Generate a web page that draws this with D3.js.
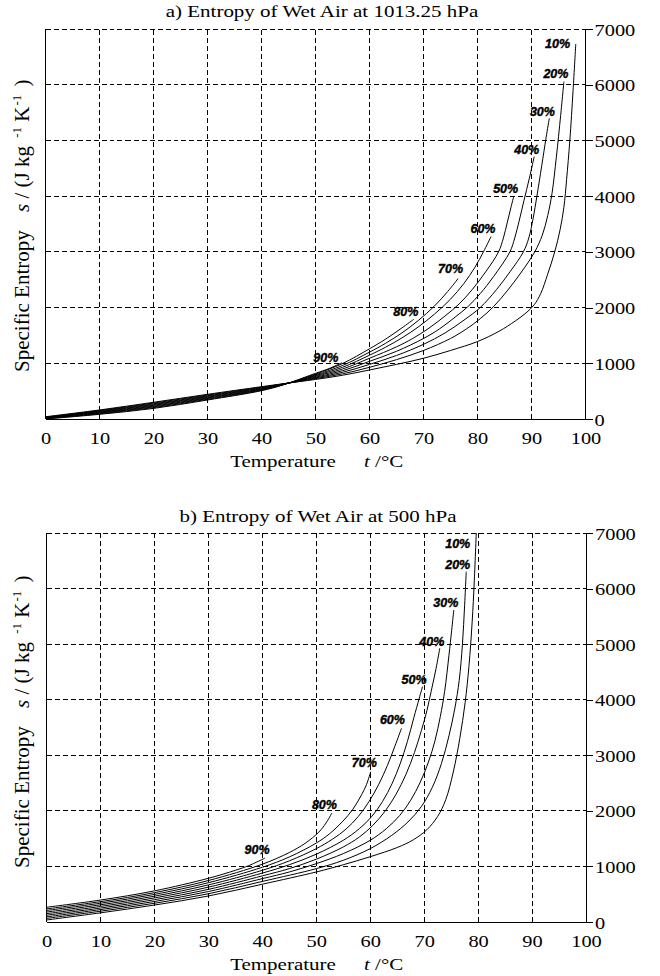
<!DOCTYPE html>
<html><head><meta charset="utf-8">
<script src="https://cdn.jsdelivr.net/npm/d3@7"></script>
<style>body{margin:0;background:#fff}svg{display:block}</style>
</head><body><svg id="c" width="660" height="976"></svg>
<script>
// ---------- data ----------
const xTicks = [0,10,20,30,40,50,60,70,80,90,100];
const yTicks = [0,1000,2000,3000,4000,5000,6000,7000];
const rhLabels = ["10%","20%","30%","40%","50%","60%","70%","80%","90%"];

// a) 1013.25 hPa : [temperature °C, entropy J/kg/K]
const top10 = [[0,40],[10,162],[20,300],[30,443],[40,580],[44,633],[50,710],[55,785],[60,880],[65,980],[70,1090],[75,1230],[80,1390],[84,1575],[87,1760],[89,1905],[90.5,2050],[91.7,2250],[93,2600],[94.3,3000],[95.3,3400],[96.0,3800],[96.5,4300],[97.1,5000],[97.7,5900],[98.2,6733]];
const top20 = [[0,35],[10,152],[20,286],[30,430],[40,571],[44,630],[50,724],[55,810],[60,928],[65,1065],[70,1230],[75,1445],[78,1620],[80.5,1800],[83,2020],[85.5,2300],[88,2620],[90.6,3000],[92,3300],[93,3650],[93.8,4050],[94.6,4700],[95.4,5450],[96.0,6056]];
const top30 = [[0,30],[10,143],[20,272],[30,417],[40,562],[44,628],[50,737],[55,838],[60,980],[65,1140],[70,1340],[74,1545],[77.5,1775],[80.5,2000],[83.5,2320],[86,2640],[88.5,3000],[89.5,3250],[90.3,3600],[91.0,4000],[91.9,4550],[92.7,5050],[93.3,5398]];
const top40 = [[0,25],[10,133],[20,259],[30,405],[40,553],[44,625],[50,751],[55,866],[60,1035],[65,1215],[70,1445],[73,1620],[76,1840],[78.2,2015],[80.5,2250],[83,2560],[86,3000],[86.9,3250],[87.7,3550],[88.6,3920],[89.6,4320],[90.5,4709]];
const top50 = [[0,20],[10,123],[20,245],[30,392],[40,544],[44,622],[50,765],[55,897],[60,1090],[65,1295],[68,1445],[71,1630],[74,1850],[76.6,2065],[79,2320],[81.5,2640],[83.9,3000],[84.8,3250],[85.5,3520],[86.2,3800],[86.7,3991]];
const top60 = [[0,15],[10,113],[20,231],[30,379],[40,535],[44,620],[50,779],[55,928],[60,1145],[63,1290],[66,1455],[69,1650],[72,1880],[75,2150],[77.5,2435],[79.5,2720],[81.1,3000],[82.5,3273]];
const top70 = [[0,10],[10,104],[20,218],[30,367],[40,526],[44,617],[50,792],[55,960],[60,1200],[63,1360],[66,1545],[69,1765],[72,2025],[74.5,2290],[76.4,2520]];
const top80 = [[0,5],[10,94],[20,204],[30,354],[40,517],[44,615],[50,806],[55,995],[60,1260],[63,1435],[66,1635],[68.2,1790]];
const top90 = [[0,0],[10,84],[20,190],[30,341],[40,508],[44,612],[50,820],[52.5,905],[54.9,1010]];
const topLabelT = [92.5,92.2,89.7,86.8,82.9,78.7,72.7,64.4,49.6];
const topLabelS = [6661,6122,5431,4758,4057,3339,2621,1840,1032];

// b) 500 hPa
const bot10 = [[0,36],[10,165],[20,305],[30,468],[40,680],[50,900],[55,1030],[60,1175],[65,1340],[68,1480],[70.5,1660],[72.5,1900],[74,2200],[75.4,2700],[76.6,3300],[77.6,3950],[78.3,4600],[78.9,5400],[79.3,6150],[79.7,7100]];
const bot20 = [[0,65],[10,194],[20,337],[30,508],[40,730],[50,960],[55,1110],[60,1320],[64,1560],[67,1800],[69.5,2080],[71.5,2420],[73.2,2850],[74.6,3350],[75.7,3850],[76.5,4350],[77.1,5000],[77.5,5700],[77.8,6304]];
const bot30 = [[0,93],[10,223],[20,369],[30,548],[40,780],[45,900],[50,1050],[55,1230],[60,1470],[63,1680],[65.5,1920],[67.5,2190],[69.3,2520],[70.8,2880],[72.0,3260],[73.0,3700],[73.8,4150],[74.6,4800],[75.1,5250],[75.5,5614]];
const bot40 = [[0,122],[10,251],[20,401],[30,587],[40,830],[45,960],[50,1130],[55,1350],[58,1530],[60.5,1740],[62.8,2000],[64.8,2300],[66.6,2650],[68.2,3050],[69.5,3450],[70.5,3800],[71.3,4150],[72.2,4560],[72.9,4925]];
const bot50 = [[0,150],[10,280],[20,433],[30,627],[40,880],[45,1030],[50,1220],[55,1470],[58,1680],[60.3,1900],[62.3,2170],[64.1,2500],[65.6,2860],[66.9,3250],[68.1,3680],[69.1,4030],[69.7,4235]];
const bot60 = [[0,179],[10,309],[20,464],[30,667],[40,930],[45,1100],[50,1320],[53,1490],[55.5,1670],[57.8,1900],[59.8,2170],[61.6,2480],[63.2,2820],[64.6,3170],[65.8,3485]];
const bot70 = [[0,208],[10,338],[20,496],[30,707],[40,985],[45,1170],[50,1420],[52.5,1590],[54.8,1800],[56.8,2030],[58.4,2290],[59.3,2470],[60.1,2705]];
const bot80 = [[0,236],[10,366],[20,528],[30,746],[40,1040],[45,1250],[48,1420],[50.5,1620],[51.8,1780],[52.9,1960]];
const bot90 = [[0,265],[10,395],[20,560],[30,786],[35,930],[37.5,1015],[40.5,1150]];
const botLabelT = [73.9,73.9,71.7,69.1,65.8,61.8,56.6,49.2,36.7];
const botLabelS = [6730,6361,5677,4967,4274,3554,2798,2033,1215];

// ---------- layout ----------
const panels = [
  {id:"a", title:"a) Entropy of Wet Air at 1013.25 hPa", titleX:322, titleY:17,
   x0:45.5, x1:585.5, yTop:29, yBot:419, ylabY:372,
   curves:[top10,top20,top30,top40,top50,top60,top70,top80,top90], lt:topLabelT, ls:topLabelS},
  {id:"b", title:"b) Entropy of Wet Air at 500 hPa", titleX:318, titleY:521.5,
   x0:46.5, x1:586, yTop:533, yBot:922, ylabY:868,
   curves:[bot10,bot20,bot30,bot40,bot50,bot60,bot70,bot80,bot90], lt:botLabelT, ls:botLabelS}
];

const svg = d3.select("#c");
const SERIF = "'Liberation Serif','Times New Roman',Times,serif";
const SANS = "'Liberation Sans',Arial,Helvetica,sans-serif";
const SX = 1.2;

function stext(g, x, y, str, anchor, size){
  return g.append("text")
    .attr("transform", `translate(${x},${y}) scale(${SX},1)`)
    .attr("text-anchor", anchor)
    .attr("font-family", SERIF).attr("font-size", size)
    .attr("fill","#000").text(str);
}

panels.forEach(p => {
  const x = d3.scaleLinear().domain([0,100]).range([p.x0,p.x1]);
  const y = d3.scaleLinear().domain([0,7000]).range([p.yBot,p.yTop]);
  const g = svg.append("g");

  // grid
  g.append("g").selectAll("line").data(xTicks.filter(d=>d>0&&d<100)).join("line")
    .attr("x1",d=>x(d)).attr("x2",d=>x(d)).attr("y1",y(0)).attr("y2",y(7000))
    .attr("stroke","#000").attr("stroke-dasharray","5,3").attr("shape-rendering","crispEdges");
  g.append("g").selectAll("line").data(yTicks).join("line")
    .attr("x1",x(0)).attr("x2",x(100)).attr("y1",d=>y(d)).attr("y2",d=>y(d))
    .attr("stroke","#000").attr("stroke-dasharray","5,3").attr("shape-rendering","crispEdges");

  // frame: left, right, bottom solid
  [[x(0),y(0),x(0),y(7000)],[x(100),y(0),x(100),y(7000)],[x(0),y(0),x(100),y(0)]].forEach(l=>{
    g.append("line").attr("x1",l[0]).attr("y1",l[1]).attr("x2",l[2]).attr("y2",l[3])
      .attr("stroke","#000").attr("shape-rendering","crispEdges");
  });

  // right axis
  const ax = d3.axisRight(y).tickValues(yTicks).tickSize(7).tickFormat(d3.format("d"));
  const ag = g.append("g").attr("transform",`translate(${x(100)},0)`).call(ax);
  ag.select(".domain").remove();
  ag.selectAll(".tick line").attr("stroke","#000").attr("shape-rendering","crispEdges");
  ag.selectAll(".tick text").attr("x",null).attr("dy",null)
    .attr("transform",`translate(9,6) scale(${SX},1)`)
    .attr("font-family",SERIF).attr("font-size",17).attr("fill","#000");

  // bottom axis labels
  const bx = d3.axisBottom(x).tickValues(xTicks).tickSize(0).tickFormat(d3.format("d"));
  const bg = g.append("g").attr("transform",`translate(0,${y(0)})`).call(bx);
  bg.select(".domain").remove();
  bg.selectAll(".tick text").attr("y",null).attr("dy",null)
    .attr("transform",`translate(0,25) scale(${SX},1)`)
    .attr("font-family",SERIF).attr("font-size",17).attr("fill","#000");

  // titles
  stext(g, p.titleX, p.titleY, p.title, "middle", 17.5);
  stext(g, 283, y(0)+48, "Temperature", "middle", 17.5);
  const tt = g.append("text")
    .attr("transform", `translate(364,${y(0)+48}) scale(${SX},1)`)
    .attr("font-family", SERIF).attr("font-size",17.5);
  tt.append("tspan").attr("font-style","italic").text("t");
  tt.append("tspan").text(" /°C");

  // y label
  g.append("text").attr("transform",`translate(29,${p.ylabY}) rotate(-90)`)
    .attr("font-family",SERIF).attr("font-size",21).text("Specific Entropy");
  const yl = g.append("text").attr("transform",`translate(29,${p.ylabY-160}) rotate(-90)`)
    .attr("font-family",SERIF).attr("font-size",21);
  yl.append("tspan").attr("font-style","italic").text("s");
  yl.append("tspan").text(" / (J kg ");
  yl.append("tspan").attr("font-size",13).attr("dy",-8).attr("dx",3).text("-1");
  yl.append("tspan").attr("dy",8).text(" K");
  yl.append("tspan").attr("font-size",13).attr("dy",-8).attr("dx",1).text("-1");
  yl.append("tspan").attr("dy",8).attr("dx",3).text(" )");

  // curves
  const clipId = "clip"+p.id;
  svg.append("defs").append("clipPath").attr("id",clipId).append("rect")
    .attr("x",x(0)).attr("y",y(7000)).attr("width",x(100)-x(0)).attr("height",y(0)-y(7000));
  const line = d3.line().x(d=>x(d[0])).y(d=>y(d[1])).curve(d3.curveCatmullRom.alpha(0.5));
  g.append("g").attr("clip-path",`url(#${clipId})`).selectAll("path").data(p.curves).join("path")
    .attr("d",line).attr("fill","none").attr("stroke","#000").attr("stroke-width",1);

  // RH labels
  g.append("g").selectAll("text").data(rhLabels).join("text")
    .attr("x",(d,i)=>x(p.lt[i])).attr("y",(d,i)=>y(p.ls[i]))
    .attr("font-family",SANS).attr("font-weight","bold").attr("font-style","italic")
    .attr("font-size",12.5).attr("fill","#000")
    .attr("stroke","#000").attr("stroke-width",0.4).text(d=>d);
});
</script></body></html>
